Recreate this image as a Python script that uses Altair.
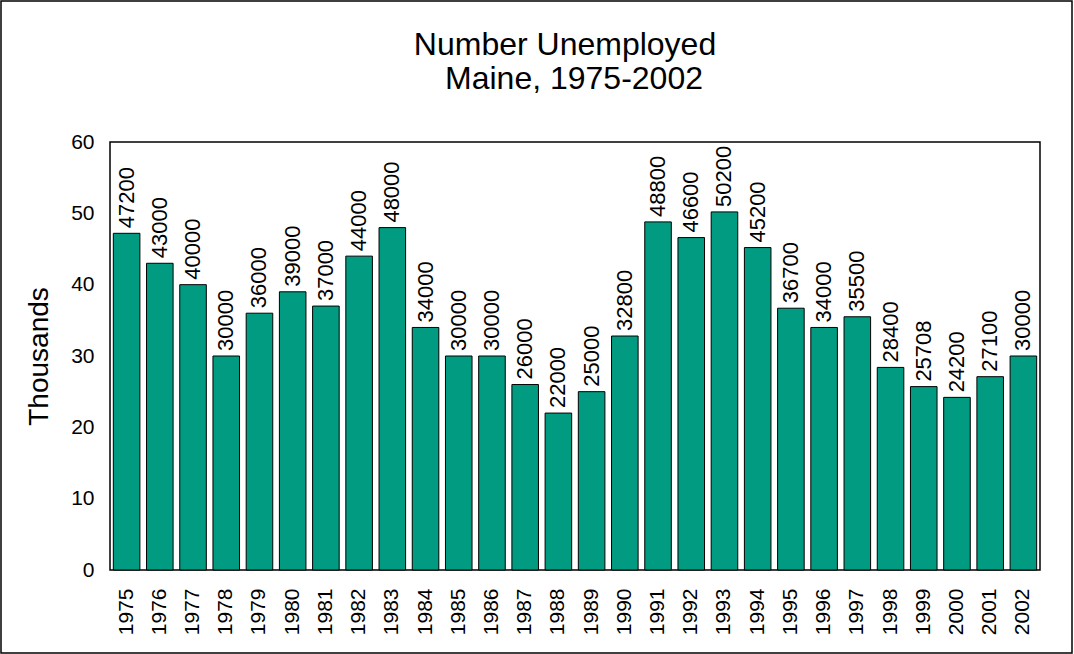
import altair as alt
import pandas as pd

years = [str(y) for y in range(1975, 2003)]
unemployed = [47200, 43000, 40000, 30000, 36000, 39000, 37000, 44000, 48000, 34000,
              30000, 30000, 26000, 22000, 25000, 32800, 48800, 46600, 50200, 45200,
              36700, 34000, 35500, 28400, 25708, 24200, 27100, 30000]
title_lines = ["Number Unemployed", "Maine, 1975-2002"]

df = pd.DataFrame({"year": years, "value": unemployed})
df["thousands"] = df["value"] / 1000

FONT = "Liberation Sans"

x = alt.X("year:N", sort=years, title=None,
          scale=alt.Scale(paddingInner=0.2, paddingOuter=0.1),
          axis=alt.Axis(labelAngle=270, labelFontSize=21, labelFont=FONT, labelColor="black",
                        labelPadding=18, ticks=False, domain=False))
y = alt.Y("thousands:Q", title="Thousands",
          scale=alt.Scale(domain=[0, 60], nice=False),
          axis=alt.Axis(values=[0, 10, 20, 30, 40, 50, 60], labelFontSize=21, labelFont=FONT,
                        labelColor="black", labelPadding=16, ticks=False, domain=False,
                        grid=False, titleFontSize=28, titleFont=FONT, titleFontWeight="normal",
                        titleColor="black", titlePadding=17))

bars = alt.Chart(df).mark_bar(color="#009B80", stroke="black", strokeWidth=1).encode(x=x, y=y)

labels = alt.Chart(df).mark_text(angle=270, align="left", baseline="middle", dx=5,
                                 fontSize=22, font=FONT, color="black").encode(
    x=alt.X("year:N", sort=years), y="thousands:Q", text="value:Q")

border = alt.Chart(alt.Data(values=[{}])).mark_rect(fill=None, stroke="black", strokeWidth=1.5).encode(
    x=alt.value(-109), x2=alt.value(962), y=alt.value(-141), y2=alt.value(511))

title1 = alt.Chart(alt.Data(values=[{"t": title_lines[0]}])).mark_text(
    fontSize=32, font=FONT, color="black", align="center", baseline="alphabetic").encode(
    text="t:N", x=alt.value(455), y=alt.value(-87))
title2 = alt.Chart(alt.Data(values=[{"t": title_lines[1]}])).mark_text(
    fontSize=32, font=FONT, color="black", align="center", baseline="alphabetic").encode(
    text="t:N", x=alt.value(464), y=alt.value(-53))

chart = alt.layer(bars, labels, border, title1, title2).properties(
    width=930, height=428,
    autosize=alt.AutoSizeParams(type="none"),
    padding={"left": 110, "top": 142, "right": 34, "bottom": 84},
    background="white",
).configure_view(stroke="black", strokeWidth=1.5)

chart.save("out.html", embed_options={"renderer": "svg", "actions": False})
